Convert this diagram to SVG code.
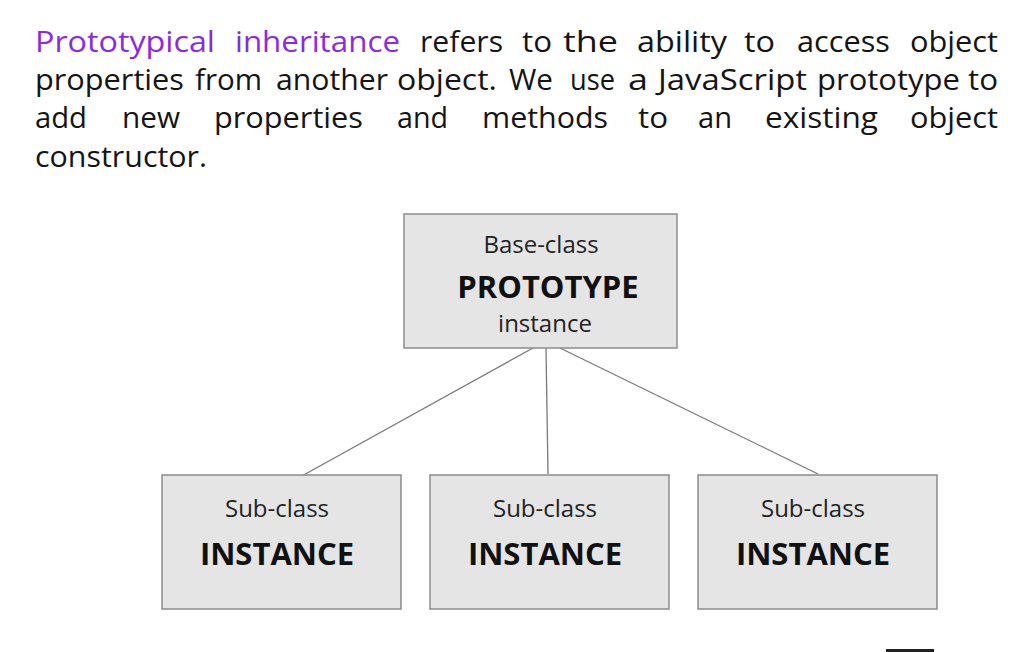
<svg xmlns="http://www.w3.org/2000/svg" width="1031" height="652" viewBox="0 0 1031 652">
<style>
.p{font-family:"Open Sans",Lato,sans-serif;font-size:29.5px;font-weight:500;fill:#141414;}
.h{fill:#8a2be2;}
.box{fill:#e5e5e5;stroke:#8c8c8c;stroke-width:1.5;}
.s{font-family:"Open Sans","Liberation Sans",sans-serif;font-size:24px;fill:#222;text-anchor:middle;}
.b{font-family:"Open Sans","Liberation Sans",sans-serif;font-size:31px;font-weight:bold;fill:#111;text-anchor:middle;}
.c{stroke:#7a7a7a;stroke-width:1.3;fill:none;}
</style>
<rect width="1031" height="652" fill="#ffffff"/>
<g id="paragraph">
<text class="p h" x="35" y="52" textLength="180" lengthAdjust="spacingAndGlyphs">Prototypical</text>
<text class="p h" x="235" y="52" textLength="165" lengthAdjust="spacingAndGlyphs">inheritance</text>
<text class="p" x="420" y="52" textLength="83" lengthAdjust="spacingAndGlyphs">refers</text>
<text class="p" x="522" y="52" textLength="30" lengthAdjust="spacingAndGlyphs">to</text>
<text class="p" x="563" y="52" textLength="55" lengthAdjust="spacingAndGlyphs">the</text>
<text class="p" x="637" y="52" textLength="90" lengthAdjust="spacingAndGlyphs">ability</text>
<text class="p" x="744" y="52" textLength="31" lengthAdjust="spacingAndGlyphs">to</text>
<text class="p" x="797" y="52" textLength="93" lengthAdjust="spacingAndGlyphs">access</text>
<text class="p" x="910" y="52" textLength="88" lengthAdjust="spacingAndGlyphs">object</text>

<text class="p" x="35" y="90" textLength="149" lengthAdjust="spacingAndGlyphs">properties</text>
<text class="p" x="195" y="90" textLength="67" lengthAdjust="spacingAndGlyphs">from</text>
<text class="p" x="276" y="90" textLength="112" lengthAdjust="spacingAndGlyphs">another</text>
<text class="p" x="397" y="90" textLength="100" lengthAdjust="spacingAndGlyphs">object.</text>
<text class="p" x="509" y="90" textLength="44" lengthAdjust="spacingAndGlyphs">We</text>
<text class="p" x="570" y="90" textLength="45" lengthAdjust="spacingAndGlyphs">use</text>
<text class="p" x="628" y="90" textLength="20" lengthAdjust="spacingAndGlyphs">a</text>
<text class="p" x="658" y="90" textLength="149" lengthAdjust="spacingAndGlyphs">JavaScript</text>
<text class="p" x="817" y="90" textLength="143" lengthAdjust="spacingAndGlyphs">prototype</text>
<text class="p" x="968" y="90" textLength="30" lengthAdjust="spacingAndGlyphs">to</text>

<text class="p" x="35" y="128" textLength="52" lengthAdjust="spacingAndGlyphs">add</text>
<text class="p" x="122" y="128" textLength="58" lengthAdjust="spacingAndGlyphs">new</text>
<text class="p" x="214" y="128" textLength="149" lengthAdjust="spacingAndGlyphs">properties</text>
<text class="p" x="397" y="128" textLength="51" lengthAdjust="spacingAndGlyphs">and</text>
<text class="p" x="482" y="128" textLength="126" lengthAdjust="spacingAndGlyphs">methods</text>
<text class="p" x="638" y="128" textLength="30" lengthAdjust="spacingAndGlyphs">to</text>
<text class="p" x="698" y="128" textLength="34" lengthAdjust="spacingAndGlyphs">an</text>
<text class="p" x="765" y="128" textLength="113" lengthAdjust="spacingAndGlyphs">existing</text>
<text class="p" x="910" y="128" textLength="88" lengthAdjust="spacingAndGlyphs">object</text>

<text class="p" x="35" y="167" textLength="172" lengthAdjust="spacingAndGlyphs">constructor.</text>
</g>
<g id="connectors">
<line class="c" x1="533" y1="348" x2="300" y2="477"/>
<line class="c" x1="546" y1="348" x2="548" y2="474"/>
<line class="c" x1="560" y1="348" x2="818" y2="474"/>
</g>
<g id="prototype">
<rect class="box" x="404" y="214" width="273" height="134"/>
<text class="s" x="541" y="253">Base-class</text>
<text class="b" x="548" y="298">PROTOTYPE</text>
<text class="s" x="545" y="332">instance</text>
</g>
<g id="instance1">
<rect class="box" x="162" y="475" width="239" height="134"/>
<text class="s" x="277" y="517">Sub-class</text>
<text class="b" x="277" y="565">INSTANCE</text>
</g>
<g id="instance2">
<rect class="box" x="430" y="475" width="239" height="134"/>
<text class="s" x="545" y="517">Sub-class</text>
<text class="b" x="545" y="565">INSTANCE</text>
</g>
<g id="instance3">
<rect class="box" x="698" y="475" width="239" height="134"/>
<text class="s" x="813" y="517">Sub-class</text>
<text class="b" x="813" y="565">INSTANCE</text>
</g>
<rect x="886" y="649" width="48" height="3" fill="#222"/>
</svg>
